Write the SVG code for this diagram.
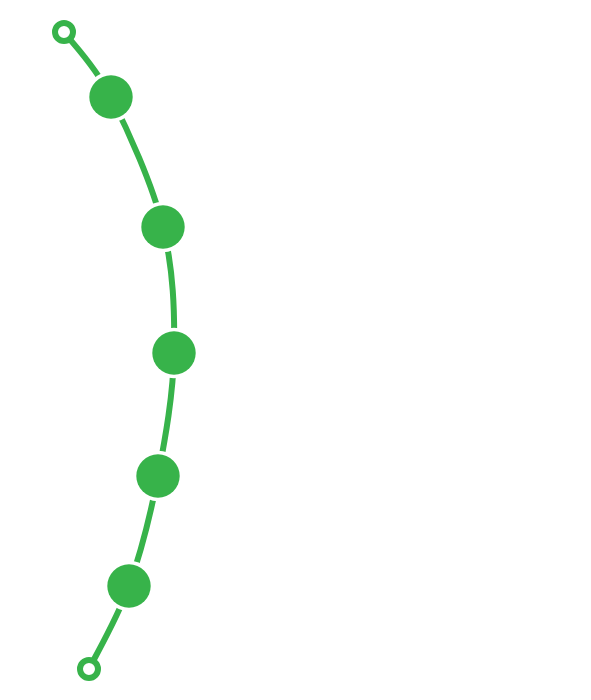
<svg xmlns="http://www.w3.org/2000/svg" width="591" height="700" viewBox="0 0 591 700">
<style>
.line{fill:none;stroke:#37b34a;stroke-width:6}
.dot{fill:#37b34a;stroke:#fff;stroke-width:7;paint-order:stroke}
.end{fill:#fff;stroke:#37b34a;stroke-width:6}
</style>
<rect width="591" height="700" fill="#fff"/>
<g id="connectors">
<path class="line" d="M64,32 C71.8,42.8 94.5,64.5 111,97 C127.5,129.5 152.5,184.3 163,227 C173.5,269.7 174.8,311.5 174,353 C173.2,394.5 165.5,437.2 158,476 C150.5,514.8 140.5,553.8 129,586 C117.5,618.2 95.7,655.2 89,669"/>
</g>
<g id="start"><circle class="end" cx="64" cy="32" r="9"/></g>
<g id="n1"><circle class="dot" cx="111" cy="97" r="21.7"/></g>
<g id="n2"><circle class="dot" cx="163" cy="227" r="21.7"/></g>
<g id="n3"><circle class="dot" cx="174" cy="353" r="21.7"/></g>
<g id="n4"><circle class="dot" cx="158" cy="476" r="21.7"/></g>
<g id="n5"><circle class="dot" cx="129" cy="586" r="21.7"/></g>
<g id="end"><circle class="end" cx="89" cy="669" r="9"/></g>
</svg>
